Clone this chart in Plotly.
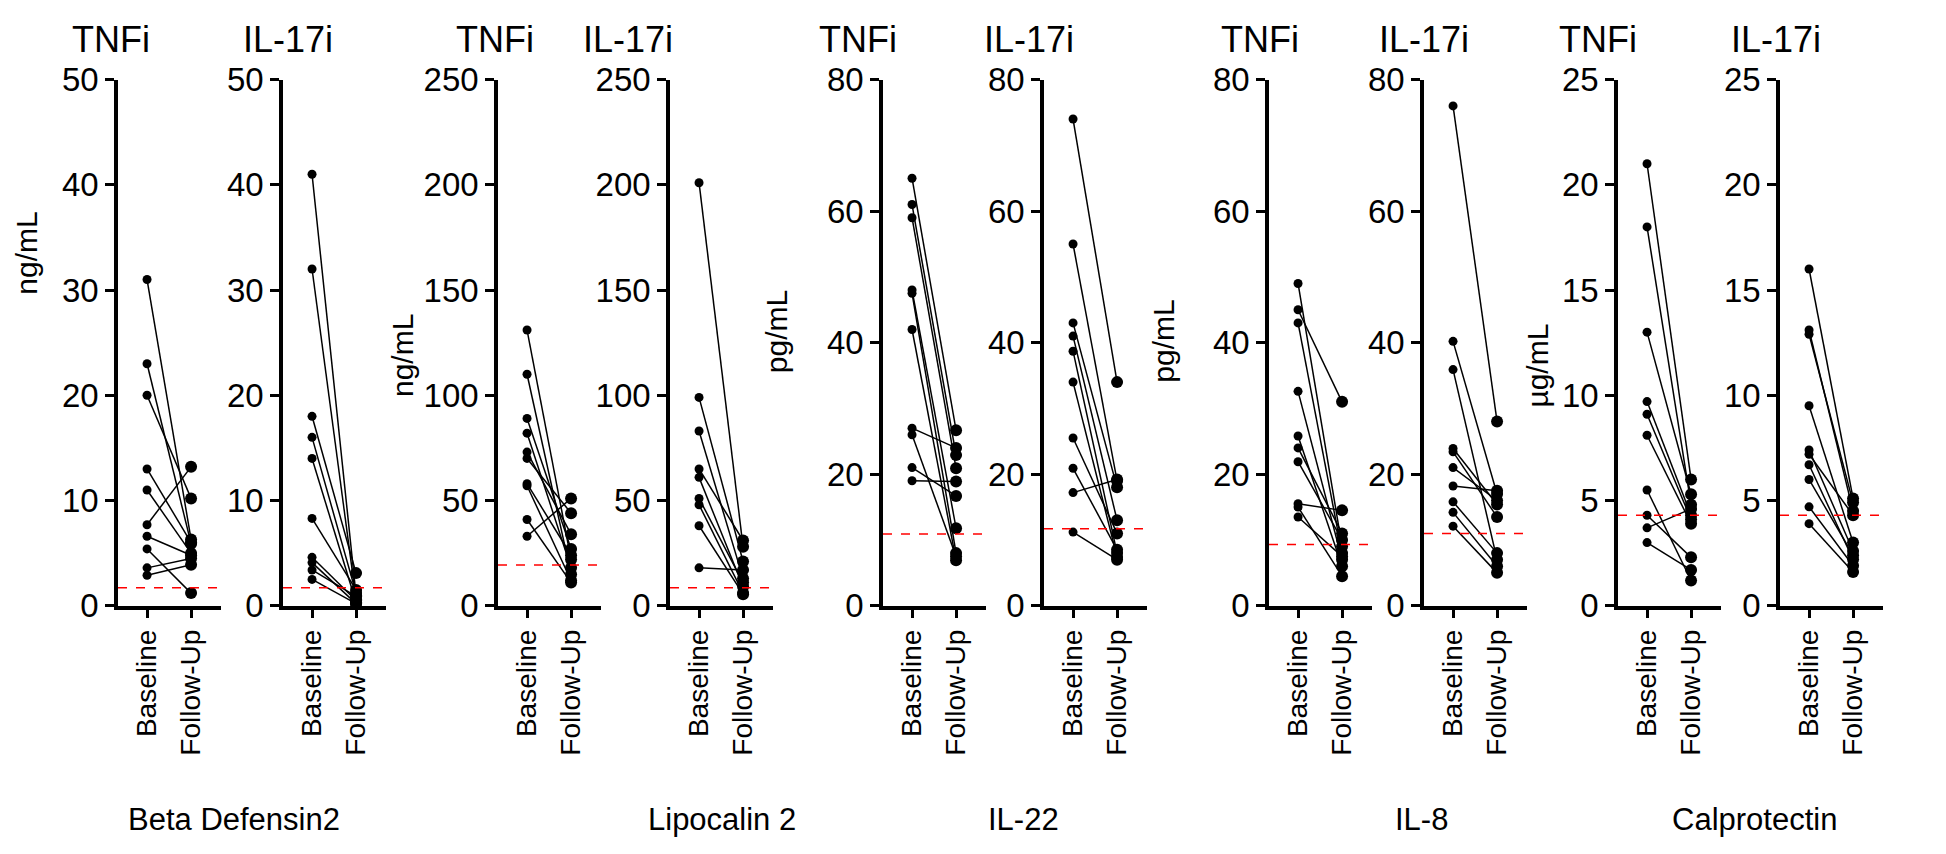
import plotly.graph_objects as go

W, H = 1946, 854

# values (paired: baseline[i] -> follow-up[i])
bd_tnfi_base = [31, 23, 20, 13, 11, 7.7, 6.6, 5.4, 3.6, 2.9]
bd_tnfi_fu = [6.3, 5.9, 10.2, 6.0, 5.0, 13.2, 4.8, 1.2, 4.5, 3.9]
bd_il17_base = [41, 32, 18, 16, 14, 8.3, 4.6, 4.1, 3.4, 2.5]
bd_il17_fu = [1.0, 0.6, 3.1, 1.2, 0.3, 1.5, 0.5, 0.2, 0.9, 0.2]
lcn_tnfi_base = [131, 110, 89, 82, 73, 70, 58, 57, 41, 33]
lcn_tnfi_fu = [22, 15, 27, 18, 34, 44, 24, 12, 11, 51]
lcn_il17_base = [201, 99, 83, 65, 61, 51, 48, 38, 18]
lcn_il17_fu = [28, 21, 13, 31, 9, 11, 6, 5.5, 17]
il22_tnfi_base = [65, 61, 59, 48, 47.5, 42, 27, 26, 21, 19]
il22_tnfi_fu = [26.7, 22.9, 20.9, 11.8, 8, 6.9, 24, 7.5, 16.7, 18.9]
il22_il17_base = [74, 55, 43, 41, 38.7, 34, 25.5, 20.9, 17.2, 11.2]
il22_il17_fu = [34, 19, 18, 13, 8, 7.4, 11, 8.5, 19.2, 7]
il8_tnfi_base = [49, 45, 43, 32.6, 25.8, 24, 21.9, 15.5, 15, 13.5]
il8_tnfi_fu = [9, 31, 8, 7, 6, 11, 10, 14.5, 4.5, 7.5]
il8_il17_base = [76, 40.2, 35.9, 23.9, 23.4, 21, 18.2, 15.8, 14.2, 12.1]
il8_il17_fu = [28, 17, 7, 15.4, 13.5, 16, 17.5, 8, 6, 5]
cal_tnfi_base = [21, 18, 13, 9.7, 9.1, 8.1, 5.5, 4.3, 3.7, 3.0]
cal_tnfi_fu = [6.0, 4.8, 5.3, 4.3, 4.1, 3.9, 1.2, 2.3, 4.6, 1.7]
cal_il17_base = [16, 13.1, 12.9, 9.5, 7.4, 7.2, 6.7, 6.0, 4.7, 3.9]
cal_il17_fu = [5.1, 4.5, 4.9, 3.0, 2.6, 4.3, 2.2, 2.4, 1.9, 1.6]

# detection limits (red dashed lines)
lod = [1.7, 1.7, 19.3, 8.6, 10.9, 11.7, 9.3, 11.0, 4.3, 4.3]

groups = ["Beta Defensin2", "Lipocalin 2", "IL-22", "IL-8", "Calprotectin"]
units = ["ng/mL", "ng/mL", "pg/mL", "pg/mL", "µg/mL"]
y_max = [50, 250, 80, 80, 25]
y_step = [10, 50, 20, 20, 5]
treatments = ["TNFi", "IL-17i"]
timepoints = ["Baseline", "Follow-Up"]

panels = [
    (bd_tnfi_base, bd_tnfi_fu), (bd_il17_base, bd_il17_fu),
    (lcn_tnfi_base, lcn_tnfi_fu), (lcn_il17_base, lcn_il17_fu),
    (il22_tnfi_base, il22_tnfi_fu), (il22_il17_base, il22_il17_fu),
    (il8_tnfi_base, il8_tnfi_fu), (il8_il17_base, il8_il17_fu),
    (cal_tnfi_base, cal_tnfi_fu), (cal_il17_base, cal_il17_fu),
]

# layout in pixels
axis_left = [110, 275, 490, 662, 875, 1036, 1261, 1416, 1610, 1772]
title_dx = [-7, 5, -3, -42, -25, -15, -9, 0, -20, -4]
panel_w = 103
y_top, y_zero = 56, 606
title_y = 14
unit_pos = [(19, 238), (394, 345), (768, 320), (1156, 330), (1530, 355)]
group_x = [226, 714, 1015, 1413, 1746]
group_y = 829

FONT = "Liberation Sans, Arial, Helvetica, sans-serif"

fig = go.Figure()
layout = dict(width=W, height=H, margin=dict(l=0, r=0, t=0, b=0),
              paper_bgcolor="white", plot_bgcolor="white", showlegend=False,
              font=dict(family=FONT, color="black", size=30))
annotations = []
shapes = []

for i, (base, fu) in enumerate(panels):
    g = i // 2
    n = "" if i == 0 else str(i + 1)
    xa, ya = "x" + n, "y" + n
    x0 = axis_left[i] / W
    x1 = (axis_left[i] + panel_w) / W

    lx, ly = [], []
    for b, f in zip(base, fu):
        lx += [0, 1, None]
        ly += [b, f, None]
    fig.add_trace(go.Scatter(x=lx, y=ly, mode="lines", xaxis=xa, yaxis=ya,
                             line=dict(color="black", width=1.5), cliponaxis=False))
    fig.add_trace(go.Scatter(x=[0] * len(base), y=base, mode="markers", xaxis=xa, yaxis=ya,
                             marker=dict(color="black", size=9), cliponaxis=False))
    fig.add_trace(go.Scatter(x=[1] * len(fu), y=fu, mode="markers", xaxis=xa, yaxis=ya,
                             marker=dict(color="black", size=12), cliponaxis=False))

    layout["xaxis" + n] = dict(
        domain=[x0, x1], anchor=ya, range=[-0.66, 1.68],
        tickvals=[0, 1], ticktext=timepoints, tickangle=-90,
        showline=True, linewidth=3.5, linecolor="black",
        ticks="outside", ticklen=9, tickwidth=3, tickcolor="black",
        showgrid=False, zeroline=False, fixedrange=True,
        tickfont=dict(size=28, family=FONT))
    layout["yaxis" + n] = dict(
        domain=[1 - y_zero / H, 1 - y_top / H], anchor=xa, range=[0, y_max[g]],
        tickvals=list(range(0, y_max[g] + 1, y_step[g])),
        showline=True, linewidth=3.5, linecolor="black",
        ticks="outside", ticklen=9, tickwidth=3, tickcolor="black",
        showgrid=False, zeroline=False, fixedrange=True,
        tickfont=dict(size=33, family=FONT))

    shapes.append(dict(type="line", xref=xa + " domain", yref=ya, x0=0, x1=1,
                       y0=lod[i], y1=lod[i], line=dict(color="red", width=1.5, dash="dash")))

    # panel titles sit roughly above the y-axis line
    annotations.append(dict(text=treatments[i % 2], x=(axis_left[i] + title_dx[i]) / W,
                            y=1 - title_y / H, xref="paper", yref="paper", showarrow=False,
                            xanchor="center", yanchor="middle",
                            font=dict(size=36, family=FONT)))

for g in range(5):
    ux, uy = unit_pos[g]
    annotations.append(dict(text=units[g], x=ux / W, y=1 - uy / H, xref="paper", yref="paper",
                            showarrow=False, textangle=-90, xanchor="center", yanchor="middle",
                            font=dict(size=30, family=FONT)))
    annotations.append(dict(text=groups[g], x=group_x[g] / W, y=1 - group_y / H,
                            xref="paper", yref="paper", showarrow=False,
                            xanchor="center", yanchor="middle",
                            font=dict(size=31, family=FONT)))

layout["annotations"] = annotations
layout["shapes"] = shapes
fig.update_layout(**layout)

fig.write_html("out.html")
